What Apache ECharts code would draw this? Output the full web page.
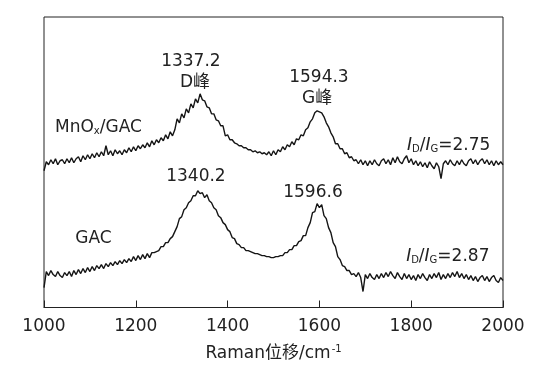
<!DOCTYPE html>
<html><head><meta charset="utf-8">
<script src="https://cdn.jsdelivr.net/npm/echarts@6/dist/echarts.min.js"></script>
<style>html,body{margin:0;padding:0;background:#fff}#c{width:560px;height:367px}</style>
</head><body><div id="c"></div>
<script>
const FONT = '"DejaVu Sans", "Noto Sans CJK SC", sans-serif';
const wavenumbers = [
1000,1005,1010,1015,1020,1025,1030,1035,1040,1045,1050,1055,1060,1065,1070,1075,1080,1085,1090,1095,
1100,1105,1110,1115,1120,1125,1130,1135,1140,1145,1150,1155,1160,1165,1170,1175,1180,1185,1190,1195,
1200,1205,1210,1215,1220,1225,1230,1235,1240,1245,1250,1255,1260,1265,1270,1275,1280,1285,1290,1295,
1300,1305,1310,1315,1320,1325,1330,1335,1340,1345,1350,1355,1360,1365,1370,1375,1380,1385,1390,1395,
1400,1405,1410,1415,1420,1425,1430,1435,1440,1445,1450,1455,1460,1465,1470,1475,1480,1485,1490,1495,
1500,1505,1510,1515,1520,1525,1530,1535,1540,1545,1550,1555,1560,1565,1570,1575,1580,1585,1590,1595,
1600,1605,1610,1615,1620,1625,1630,1635,1640,1645,1650,1655,1660,1665,1670,1675,1680,1685,1690,1695,
1700,1705,1710,1715,1720,1725,1730,1735,1740,1745,1750,1755,1760,1765,1770,1775,1780,1785,1790,1795,
1800,1805,1810,1815,1820,1825,1830,1835,1840,1845,1850,1855,1860,1865,1870,1875,1880,1885,1890,1895,
1900,1905,1910,1915,1920,1925,1930,1935,1940,1945,1950,1955,1960,1965,1970,1975,1980,1985,1990,1995,
2000];
const mnoxGac = [
137,146,143,148,144,149,143,147,148,144,149,145,150,145,149,151,146,152,148,153,
149,154,150,155,151,156,152,162,153,157,152,158,154,157,153,158,155,160,156,161,
157,162,159,163,160,165,161,167,163,168,165,170,167,173,169,176,172,178,189,185,
194,190,199,195,204,200,209,205,214,208,207,201,200,194,194,188,187,182,182,172,
173,168,168,165,164,162,162,160,160,158,158,156,157,155,156,154,155,153,156,152,
157,153,158,156,161,158,163,161,166,163,169,168,173,172,178,180,186,189,195,197,
196,195,191,185,181,175,171,164,164,159,159,154,155,150,151,147,148,144,148,143,
147,142,147,143,148,144,142,147,149,144,148,143,150,145,151,146,144,149,152,145,
149,143,147,142,146,141,145,140,146,142,139,145,141,129,144,147,143,148,144,142,
147,143,148,144,142,147,149,144,148,143,147,149,144,148,143,147,142,147,143,146,
143];
const gac = [
20,36,32,37,33,31,36,32,30,35,32,36,31,37,33,38,34,39,35,40,
36,41,37,42,39,43,39,44,41,45,42,46,43,47,44,48,45,49,46,51,
47,52,48,53,49,54,50,55,55,56,57,61,61,65,65,69,71,76,81,89,
91,98,100,105,107,112,112,117,114,115,110,113,107,105,100,98,92,90,85,83,
78,76,70,69,64,63,60,60,57,57,56,55,54,54,53,52,52,51,51,50,
50,51,51,52,52,55,55,58,58,62,62,66,67,72,72,80,85,95,96,104,
100,103,92,89,80,75,65,61,51,48,42,41,37,37,33,34,31,35,30,16,
33,29,34,30,28,33,29,34,30,35,31,36,32,29,35,31,28,34,29,33,
28,32,27,33,29,34,30,27,33,29,34,30,35,28,33,29,34,30,35,31,
36,30,34,29,33,28,32,27,31,26,30,32,27,31,26,30,32,27,25,30,
27];
const xTicks = [1000,1200,1400,1600,1800,2000];

// annotations: [text, wavenumber, intensity, align]
const annotations = [
  ['1337.2', 1320, 246, 'center'],
  ['D峰', 1329, 225, 'center'],
  ['1594.3', 1599, 230, 'center'],
  ['G峰', 1595, 209, 'center'],
  ['1340.2', 1331, 131, 'center'],
  ['1596.6', 1586, 115, 'center'],
  ['MnO{s|x}/GAC', 1024, 180, 'left'],
  ['GAC', 1068, 69, 'left'],
  ['{i|I}{s|D}/{i|I}{s|G}=2.75', 1791, 162, 'left'],
  ['{i|I}{s|D}/{i|I}{s|G}=2.87', 1789, 51, 'left']
];

const pair = (arr) => wavenumbers.map((w, i) => [w, arr[i]]);
const chart = echarts.init(document.getElementById('c'), null, {renderer: 'canvas'});
const lineStyle = {color: '#151515', width: 1.4};
chart.setOption({
  animation: false,
  grid: {left: 44, right: 57, top: 17, bottom: 59, show: true, borderColor: '#222', borderWidth: 1},
  xAxis: {
    type: 'value', min: 1000, max: 2000, interval: 200,
    axisLine: {show: true, lineStyle: {color: '#222', width: 1}},
    axisTick: {show: true, inside: true, length: 7, lineStyle: {color: '#222'}},
    splitLine: {show: false},
    axisLabel: {color: '#222', fontSize: 17, fontFamily: FONT, margin: 11,
      formatter: (v) => String(v)},
    name: 'Raman位移/cm{sup|-1}', nameLocation: 'middle', nameGap: 37,
    nameTextStyle: {color: '#222', fontSize: 17, fontFamily: FONT,
      rich: {sup: {fontSize: 10, verticalAlign: 'top', color: '#222', fontFamily: FONT, padding: [0,0,8,1]}}}
  },
  yAxis: {
    type: 'value', min: 0, max: 291,
    axisLine: {show: false}, axisTick: {show: false}, axisLabel: {show: false}, splitLine: {show: false}
  },
  series: [
    {type: 'line', data: pair(mnoxGac), symbol: 'none', lineStyle: lineStyle},
    {type: 'line', data: pair(gac), symbol: 'none', lineStyle: lineStyle}
  ]
});

const graphics = annotations.map(([t, x, y, align]) => {
  const p = chart.convertToPixel({gridIndex: 0}, [x, y]);
  return {
    type: 'text', x: p[0], y: p[1],
    style: {
      text: t, fill: '#222', fontSize: 17, fontFamily: FONT,
      align: align, verticalAlign: 'middle',
      rich: {
        s: {fontSize: 10, verticalAlign: 'bottom', fill: '#222', fontFamily: FONT, padding: [8,0,0,0]},
        i: {fontStyle: 'italic', fontSize: 17, fill: '#222', fontFamily: FONT}
      }
    }
  };
});
chart.setOption({graphic: graphics});
</script></body></html>
